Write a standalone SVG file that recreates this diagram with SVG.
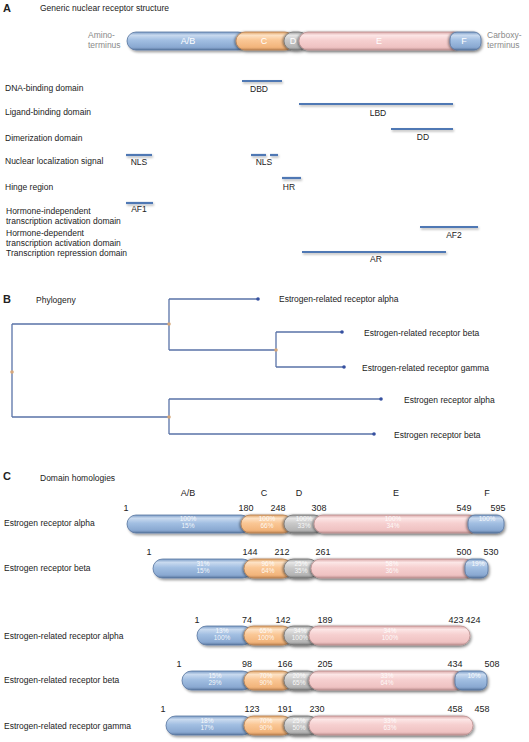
<svg xmlns="http://www.w3.org/2000/svg" width="529" height="742" viewBox="0 0 529 742">
<defs>
<linearGradient id="gB" x1="0" y1="0" x2="0" y2="1">
<stop offset="0" stop-color="#7b9cc6"/><stop offset="0.18" stop-color="#c9daef"/><stop offset="0.45" stop-color="#a2bfe2"/><stop offset="0.85" stop-color="#89a8d1"/><stop offset="1" stop-color="#5a779f"/>
</linearGradient>
<linearGradient id="gO" x1="0" y1="0" x2="0" y2="1">
<stop offset="0" stop-color="#dfa468"/><stop offset="0.18" stop-color="#fde2c5"/><stop offset="0.45" stop-color="#fac795"/><stop offset="0.85" stop-color="#f2b47b"/><stop offset="1" stop-color="#bf8654"/>
</linearGradient>
<linearGradient id="gG" x1="0" y1="0" x2="0" y2="1">
<stop offset="0" stop-color="#9c9c9c"/><stop offset="0.18" stop-color="#e6e6e6"/><stop offset="0.45" stop-color="#cacaca"/><stop offset="0.85" stop-color="#b4b4b4"/><stop offset="1" stop-color="#7a7a7a"/>
</linearGradient>
<linearGradient id="gP" x1="0" y1="0" x2="0" y2="1">
<stop offset="0" stop-color="#dba9a9"/><stop offset="0.18" stop-color="#fce6e6"/><stop offset="0.45" stop-color="#f6d0d0"/><stop offset="0.85" stop-color="#efc2c2"/><stop offset="1" stop-color="#bf9292"/>
</linearGradient>
<filter id="sh" x="-10%" y="-30%" width="120%" height="180%">
<feDropShadow dx="1.5" dy="2" stdDeviation="1.3" flood-color="#000" flood-opacity="0.35"/>
</filter>
<filter id="ov" x="-30%" y="-30%" width="160%" height="160%">
<feDropShadow dx="-1.2" dy="0.4" stdDeviation="0.8" flood-color="#000" flood-opacity="0.45"/>
</filter>
<filter id="lsh" x="-10%" y="-100%" width="120%" height="400%">
<feDropShadow dx="1" dy="1.5" stdDeviation="0.8" flood-color="#000" flood-opacity="0.3"/>
</filter>
</defs>
<style>
text{font-family:"Liberation Sans",Arial,sans-serif;fill:#222}
.hd{font-size:11px;font-weight:bold}
.t{font-size:8.5px}
.n{font-size:9px}
.m{text-anchor:middle}
.gr{fill:#8a8a8a;font-size:8.5px}
.seg{stroke-width:0.8}
.ovl{filter:url(#ov)}
.b{fill:url(#gB);stroke:#56749e}
.o{fill:url(#gO);stroke:#b98252}
.g{fill:url(#gG);stroke:#747474}
.p{fill:url(#gP);stroke:#bb9090}
.sl{fill:#fff;font-size:9px;text-anchor:middle}
.pc{fill:#fff;fill-opacity:0.9;font-size:6.5px;text-anchor:middle}
.fl{stroke:#4f78b4;stroke-width:2.2;fill:none}
.tr{stroke:#5a73a8;stroke-width:1.3;fill:none}
.leaf{fill:#3550a0}
.jn{fill:#d6a77b}
</style>

<!-- Section A -->
<g id="sectionA">
<text class="hd" x="3" y="12">A</text>
<text class="t" x="40" y="11">Generic nuclear receptor structure</text>
<g id="genericBar" filter="url(#sh)">
<rect class="seg b" x="127" y="32" width="120" height="18" rx="9"/>
<rect class="seg o ovl" x="236" y="32" width="58" height="18" rx="9"/>
<rect class="seg g ovl" x="284" y="32" width="24" height="18" rx="9"/>
<rect class="seg p ovl" x="299" y="32" width="164" height="18" rx="9"/>
<rect class="seg b ovl" x="450" y="32" width="31" height="18" rx="7"/>
</g>
<text class="sl" x="188" y="44">A/B</text>
<text class="sl" x="264" y="44">C</text>
<text class="sl" x="293" y="44">D</text>
<text class="sl" x="379" y="44">E</text>
<text class="sl" x="464" y="44">F</text>
<text class="gr" x="88" y="38">Amino-</text>
<text class="gr" x="88" y="48">terminus</text>
<text class="gr" x="487" y="38">Carboxy-</text>
<text class="gr" x="487" y="48">terminus</text>
</g>

<g id="features">
<text class="t" x="5" y="91">DNA-binding domain</text>
<text class="t" x="5" y="115">Ligand-binding domain</text>
<text class="t" x="5" y="141">Dimerization domain</text>
<text class="t" x="5" y="164">Nuclear localization signal</text>
<text class="t" x="5" y="190">Hinge region</text>
<text class="t" x="6" y="214">Hormone-independent</text>
<text class="t" x="6" y="224">transcription activation domain</text>
<text class="t" x="6" y="236">Hormone-dependent</text>
<text class="t" x="6" y="246">transcription activation domain</text>
<text class="t" x="6" y="256">Transcription repression domain</text>
<g filter="url(#lsh)">
<line class="fl" x1="242" y1="81" x2="282" y2="81"/>
<line class="fl" x1="299" y1="104" x2="453" y2="104"/>
<line class="fl" x1="391" y1="129" x2="453" y2="129"/>
<line class="fl" x1="126" y1="155" x2="152" y2="155"/>
<line class="fl" x1="251" y1="155" x2="266" y2="155"/>
<line class="fl" x1="270" y1="155" x2="278" y2="155"/>
<line class="fl" x1="282" y1="178" x2="301" y2="178"/>
<line class="fl" x1="126" y1="203" x2="153" y2="203"/>
<line class="fl" x1="420" y1="227" x2="478" y2="227"/>
<line class="fl" x1="302" y1="252" x2="446" y2="252"/>
</g>
<text class="t m" x="259" y="92">DBD</text>
<text class="t m" x="378" y="116">LBD</text>
<text class="t m" x="423" y="140">DD</text>
<text class="t m" x="139" y="165">NLS</text>
<text class="t m" x="264" y="165">NLS</text>
<text class="t m" x="289" y="190">HR</text>
<text class="t m" x="139" y="212">AF1</text>
<text class="t m" x="454" y="238">AF2</text>
<text class="t m" x="376" y="262">AR</text>
</g>

<!-- Section B -->
<g id="sectionB">
<text class="hd" x="3" y="303">B</text>
<text class="t" x="36" y="303">Phylogeny</text>
<g id="tree-connectors">
<path class="tr" d="M12,324 V417 M12,324 H169 M12,417 H169 M169,299 V350 M169,299 H258 M169,350 H276 M276,332 V367 M276,332 H342 M276,367 H344 M169,399 V434 M169,399 H381 M169,434 H374"/>
</g>
<circle class="jn" cx="12" cy="372" r="1.8"/>
<circle class="jn" cx="169" cy="324" r="1.8"/>
<circle class="jn" cx="276" cy="350" r="1.8"/>
<circle class="jn" cx="169" cy="417" r="1.8"/>
<circle class="leaf" cx="258" cy="299" r="1.8"/>
<circle class="leaf" cx="342" cy="332" r="1.8"/>
<circle class="leaf" cx="344" cy="367" r="1.8"/>
<circle class="leaf" cx="381" cy="399" r="1.8"/>
<circle class="leaf" cx="374" cy="434" r="1.8"/>
<text class="t" x="279" y="302">Estrogen-related receptor  alpha</text>
<text class="t" x="364" y="336">Estrogen-related receptor beta</text>
<text class="t" x="362" y="371">Estrogen-related receptor gamma</text>
<text class="t" x="404" y="403">Estrogen receptor alpha</text>
<text class="t" x="394" y="438">Estrogen receptor beta</text>
</g>

<!-- Section C -->
<g id="sectionC">
<text class="hd" x="3" y="480">C</text>
<text class="t" x="40" y="481">Domain homologies</text>
<text class="n m" x="188" y="496">A/B</text>
<text class="n m" x="264" y="496">C</text>
<text class="n m" x="299" y="496">D</text>
<text class="n m" x="396" y="496">E</text>
<text class="n m" x="487" y="496">F</text>
</g>

<g id="ERalpha">
<text class="t" x="4" y="526">Estrogen receptor alpha</text>
<text class="n m" x="126" y="511">1</text>
<text class="n m" x="246" y="511">180</text>
<text class="n m" x="278" y="511">248</text>
<text class="n m" x="319" y="511">308</text>
<text class="n m" x="464" y="511">549</text>
<text class="n m" x="498" y="511">595</text>
<g filter="url(#sh)">
<rect class="seg b" x="127" y="515" width="123" height="18" rx="9"/>
<rect class="seg o ovl" x="241" y="515" width="51" height="18" rx="9"/>
<rect class="seg g ovl" x="284" y="515" width="39" height="18" rx="9"/>
<rect class="seg p ovl" x="314" y="515" width="164" height="18" rx="9"/>
<rect class="seg b ovl" x="468" y="515" width="36" height="18" rx="7"/>
</g>
<text class="pc" x="188" y="521">100%</text><text class="pc" x="188" y="528">15%</text>
<text class="pc" x="267" y="521">100%</text><text class="pc" x="267" y="528">66%</text>
<text class="pc" x="304" y="521">100%</text><text class="pc" x="304" y="528">33%</text>
<text class="pc" x="393" y="521">100%</text><text class="pc" x="393" y="528">34%</text>
<text class="pc" x="487" y="521">100%</text>
</g>

<g id="ERbeta">
<text class="t" x="4" y="571">Estrogen receptor beta</text>
<text class="n m" x="149" y="555">1</text>
<text class="n m" x="250" y="555">144</text>
<text class="n m" x="282" y="555">212</text>
<text class="n m" x="323" y="555">261</text>
<text class="n m" x="464" y="555">500</text>
<text class="n m" x="491" y="555">530</text>
<g filter="url(#sh)">
<rect class="seg b" x="153" y="559" width="99" height="19" rx="9.5"/>
<rect class="seg o ovl" x="244" y="559" width="48" height="19" rx="9.5"/>
<rect class="seg g ovl" x="284" y="559" width="34" height="19" rx="9.5"/>
<rect class="seg p ovl" x="311" y="559" width="163" height="19" rx="9.5"/>
<rect class="seg b ovl" x="465" y="559" width="23" height="19" rx="7"/>
</g>
<text class="pc" x="203" y="566">31%</text><text class="pc" x="203" y="573">15%</text>
<text class="pc" x="268" y="566">96%</text><text class="pc" x="268" y="573">64%</text>
<text class="pc" x="301" y="566">25%</text><text class="pc" x="301" y="573">35%</text>
<text class="pc" x="392" y="566">58%</text><text class="pc" x="392" y="573">36%</text>
<text class="pc" x="478" y="566">19%</text>
</g>

<g id="ERRalpha">
<text class="t" x="4" y="639">Estrogen-related receptor alpha</text>
<text class="n m" x="197" y="623">1</text>
<text class="n m" x="247" y="623">74</text>
<text class="n m" x="283" y="623">142</text>
<text class="n m" x="325" y="623">189</text>
<text class="n m" x="456" y="623">423</text>
<text class="n m" x="473" y="623">424</text>
<g filter="url(#sh)">
<rect class="seg b" x="197" y="626" width="55" height="19" rx="9.5"/>
<rect class="seg o ovl" x="244" y="626" width="48" height="19" rx="9.5"/>
<rect class="seg g ovl" x="284" y="626" width="34" height="19" rx="9.5"/>
<rect class="seg p ovl" x="309" y="626" width="161" height="19" rx="9.5"/>
</g>
<text class="pc" x="222" y="633">13%</text><text class="pc" x="222" y="640">100%</text>
<text class="pc" x="266" y="633">65%</text><text class="pc" x="266" y="640">100%</text>
<text class="pc" x="300" y="633">34%</text><text class="pc" x="300" y="640">100%</text>
<text class="pc" x="390" y="633">34%</text><text class="pc" x="390" y="640">100%</text>
</g>

<g id="ERRbeta">
<text class="t" x="4" y="683">Estrogen-related receptor beta</text>
<text class="n m" x="179" y="667">1</text>
<text class="n m" x="247" y="667">98</text>
<text class="n m" x="285" y="667">166</text>
<text class="n m" x="325" y="667">205</text>
<text class="n m" x="455" y="667">434</text>
<text class="n m" x="492" y="667">508</text>
<g filter="url(#sh)">
<rect class="seg b" x="182" y="671" width="70" height="19" rx="9.5"/>
<rect class="seg o ovl" x="244" y="671" width="48" height="19" rx="9.5"/>
<rect class="seg g ovl" x="284" y="671" width="34" height="19" rx="9.5"/>
<rect class="seg p ovl" x="309" y="671" width="155" height="19" rx="9.5"/>
<rect class="seg b ovl" x="455" y="671" width="32" height="19" rx="7"/>
</g>
<text class="pc" x="215" y="678">15%</text><text class="pc" x="215" y="685">29%</text>
<text class="pc" x="266" y="678">70%</text><text class="pc" x="266" y="685">90%</text>
<text class="pc" x="299" y="678">20%</text><text class="pc" x="299" y="685">65%</text>
<text class="pc" x="387" y="678">33%</text><text class="pc" x="387" y="685">64%</text>
<text class="pc" x="474" y="678">10%</text>
</g>

<g id="ERRgamma">
<text class="t" x="4" y="729">Estrogen-related receptor gamma</text>
<text class="n m" x="163" y="712">1</text>
<text class="n m" x="252" y="712">123</text>
<text class="n m" x="285" y="712">191</text>
<text class="n m" x="317" y="712">230</text>
<text class="n m" x="455" y="712">458</text>
<text class="n m" x="482" y="712">458</text>
<g filter="url(#sh)">
<rect class="seg b" x="166" y="716" width="86" height="19" rx="9.5"/>
<rect class="seg o ovl" x="244" y="716" width="48" height="19" rx="9.5"/>
<rect class="seg g ovl" x="284" y="716" width="34" height="19" rx="9.5"/>
<rect class="seg p ovl" x="309" y="716" width="164" height="19" rx="9.5"/>
</g>
<text class="pc" x="207" y="723">18%</text><text class="pc" x="207" y="730">17%</text>
<text class="pc" x="266" y="723">70%</text><text class="pc" x="266" y="730">90%</text>
<text class="pc" x="299" y="723">25%</text><text class="pc" x="299" y="730">50%</text>
<text class="pc" x="390" y="723">33%</text><text class="pc" x="390" y="730">63%</text>
</g>
</svg>
